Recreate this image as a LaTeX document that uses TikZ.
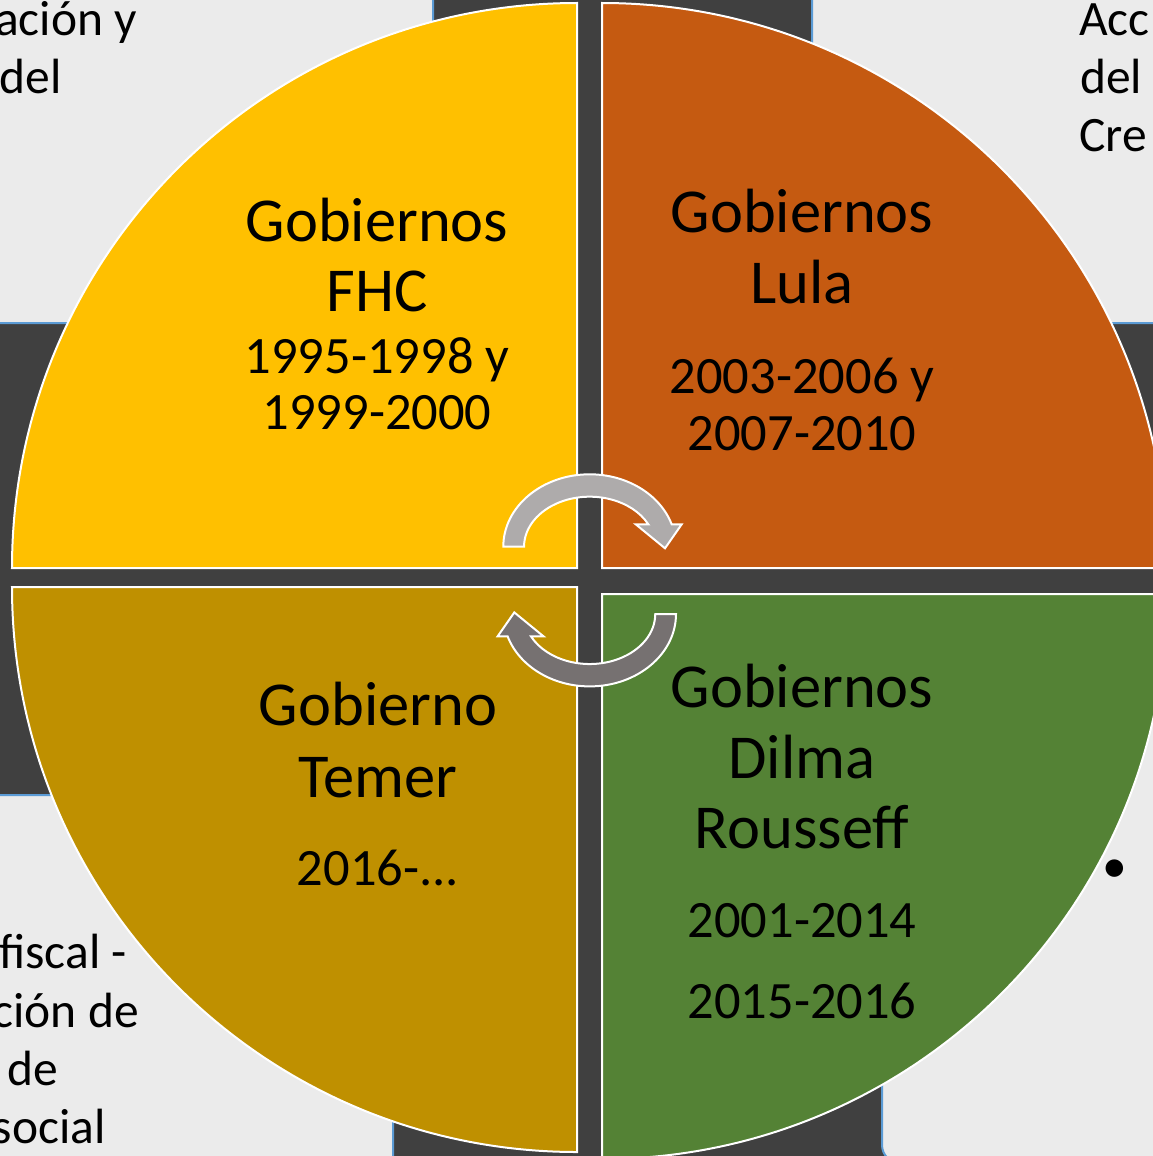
\documentclass[tikz,border=0pt]{standalone}
\usepackage{fontspec}
\setmainfont{Carlito}
\definecolor{darkbg}{HTML}{404040}
\definecolor{lightbox}{HTML}{EBEBEB}
\definecolor{boxblue}{HTML}{5B9BD5}
\definecolor{qyellow}{HTML}{FFC000}
\definecolor{qorange}{HTML}{C55A11}
\definecolor{qolive}{HTML}{BF9000}
\definecolor{qgreen}{HTML}{548235}
\definecolor{arrowlight}{HTML}{AEABAB}
\definecolor{arrowdark}{HTML}{767171}
\tikzset{
  sidebox/.style={fill=lightbox, draw=boxblue, line width=2pt, rounded corners=18pt},
  quad/.style={draw=white, line width=2pt},
  cyclearrow/.style={draw=white, line width=2pt, line join=miter},
  ttl/.style={font=\fontsize{62.5}{62.5}\selectfont, anchor=base, inner sep=0pt},
  yrs/.style={font=\fontsize{52.5}{52.5}\selectfont, anchor=base, inner sep=0pt},
  sidetxt/.style={font=\fontsize{49.5}{49.5}\selectfont, inner sep=0pt}
}
\begin{document}
\begin{tikzpicture}[x=1pt,y=-1pt]
\useasboundingbox (0,0) rectangle (1153,1156);
\clip (0,0) rectangle (1153,1156);
\fill[darkbg] (0,0) rectangle (1153,1156);
% corner boxes
\draw[sidebox] (-100,-100) rectangle (433,323);
\draw[sidebox] (812,-100) rectangle (1300,323);
\draw[sidebox] (-100,795) rectangle (393,1300);
\draw[sidebox] (882,680) rectangle (1300,1163);
% corner texts
\node[sidetxt, anchor=base east] (tl1) at (137,36) {ación y};
\node[sidetxt, anchor=base east] (tl2) at (62,93) {del};
\node[sidetxt, anchor=base west] (tr1) at (1079,36) {Acc};
\node[sidetxt, anchor=base west] (tr2) at (1080,93) {del};
\node[sidetxt, anchor=base west] (tr3) at (1079,151) {Cre};
\node[sidetxt, anchor=base east] (bl1) at (127,968) {fiscal -};
\node[sidetxt, anchor=base east] (bl2) at (139,1027) {ción de};
\node[sidetxt, anchor=base east] (bl3) at (58,1085) {de};
\node[sidetxt, anchor=base east] (bl4) at (106,1143) {social};
\node[sidetxt, anchor=center] (br1) at (1115,871) {•};
% quadrants
\draw[quad, fill=qyellow] (577,568) -- (12,568) arc[start angle=180, end angle=270, radius=565] -- cycle;
\draw[quad, fill=qorange] (602,568) -- (602,3) arc[start angle=270, end angle=360, radius=565] -- cycle;
\draw[quad, fill=qolive] (577,587) -- (577,1152) arc[start angle=90, end angle=180, radius=565] -- cycle;
\draw[quad, fill=qgreen] (602,594) -- (1167,594) arc[start angle=0, end angle=90, radius=565] -- cycle;
% cycle arrows
\draw[cyclearrow, fill=arrowlight] (503.3,546.7) arc[start angle=180, end angle=342, x radius=86.3, y radius=72.4] -- (681.7,524.3) -- (665,548.3) -- (635.7,524.3) -- (648.3,524.3) arc[start angle=333.4, end angle=180, x radius=65.6, y radius=50] -- cycle;
\begin{scope}[rotate around={180:(589.65,580.35)}]
\draw[cyclearrow, fill=arrowdark] (503.3,546.7) arc[start angle=180, end angle=342, x radius=86.3, y radius=72.4] -- (681.7,524.3) -- (665,548.3) -- (635.7,524.3) -- (648.3,524.3) arc[start angle=333.4, end angle=180, x radius=65.6, y radius=50] -- cycle;
\end{scope}
% quadrant texts
\node[ttl] (fhc1) at (377,241) {Gobiernos};
\node[ttl] (fhc2) at (377,311) {FHC};
\node[yrs] (fhc3) at (377,373) {1995-1998 y};
\node[yrs] (fhc4) at (377,429) {1999-2000};
\node[ttl] (lula1) at (802,232) {Gobiernos};
\node[ttl] (lula2) at (802,303) {Lula};
\node[yrs] (lula3) at (802,393) {2003-2006 y};
\node[yrs] (lula4) at (802,450) {2007-2010};
\node[ttl] (tem1) at (378,725) {Gobierno};
\node[ttl] (tem2) at (378,797) {Temer};
\node[yrs] (tem3) at (378,885) {2016-...};
\node[ttl] (dil1) at (802,707) {Gobiernos};
\node[ttl] (dil2) at (802,778) {Dilma};
\node[ttl] (dil3) at (802,848) {Rousseff};
\node[yrs] (dil4) at (802,937) {2001-2014};
\node[yrs] (dil5) at (802,1018) {2015-2016};
\end{tikzpicture}
\end{document}
